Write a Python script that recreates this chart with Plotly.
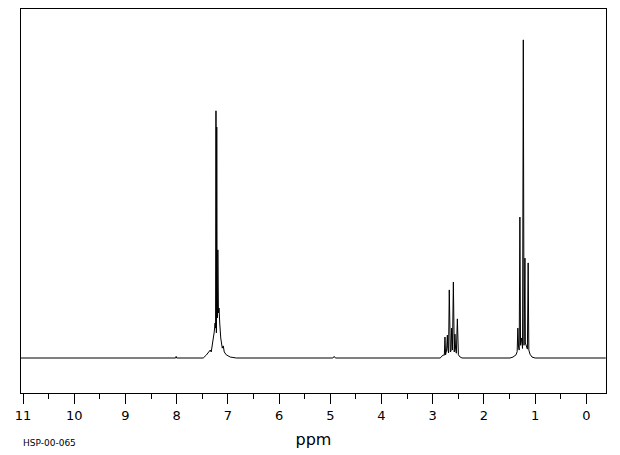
import plotly.graph_objects as go

# Spectrum vertices (ppm, relative intensity)
ppm = [
    -0.38, 1.000, 1.060, 1.099, 1.122, 1.135, 1.150, 1.177, 1.190, 1.198, 1.208,
    1.216, 1.230, 1.245, 1.265, 1.284, 1.297, 1.310, 1.323, 1.337, 1.350, 1.372,
    1.431, 1.489,
    2.426, 2.464, 2.498, 2.518, 2.538, 2.552, 2.565, 2.578, 2.596, 2.614,
    2.630, 2.642, 2.655, 2.676, 2.690, 2.705, 2.713, 2.728, 2.748, 2.760,
    2.772, 2.797, 2.836, 2.855,
    4.900, 4.924, 4.950,
    6.836, 6.953, 7.031, 7.070, 7.090, 7.109, 7.139, 7.159, 7.172, 7.184,
    7.196, 7.203, 7.209, 7.217, 7.224, 7.232, 7.240, 7.250, 7.266, 7.285,
    7.305, 7.325, 7.344, 7.383, 7.422, 7.481,
    8.000, 8.010, 8.020,
    11.04,
]
intensity = [
    0.0, 0.0, 0.3, 1.2, 2.5, 29.9, 2.8, 3.8, 4.7, 31.4, 4.7,
    4.0, 100.0, 3.0, 6.3, 4.0, 44.3, 2.5, 3.5, 9.4, 2.0, 1.0,
    0.3, 0.0,
    0.0, 0.3, 1.0, 12.3, 1.5, 2.8, 7.5, 1.9, 23.9, 2.5,
    9.4, 2.2, 1.9, 21.4, 1.6, 3.0, 7.2, 2.5, 1.0, 6.6,
    0.9, 0.9, 0.3, 0.0,
    0.0, 0.5, 0.0,
    0.0, 0.3, 1.0, 1.9, 3.8, 3.1, 6.3, 11.0, 15.7, 14.2,
    34.0, 12.6, 12.9, 72.6, 7.9, 77.7, 9.4, 11.0, 8.2, 5.7,
    4.4, 1.9, 2.5, 1.6, 0.9, 0.0,
    0.0, 0.5, 0.0,
    0.0,
]

tick_vals = [11, 10, 9, 8, 7, 6, 5, 4, 3, 2, 1, 0]
tick_text = [str(v) for v in tick_vals]
sample_id = "HSP-00-065"

fig = go.Figure()
fig.add_trace(go.Scatter(
    x=ppm, y=intensity, mode="lines",
    line=dict(color="black", width=1),
    hoverinfo="skip", showlegend=False,
))

fig.update_layout(
    width=620, height=455,
    margin=dict(l=21, r=14, t=9, b=62),
    paper_bgcolor="white", plot_bgcolor="white",
    font=dict(family="DejaVu Sans", color="black"),
    xaxis=dict(
        range=[11.04, -0.385],
        tickmode="array", tickvals=tick_vals, ticktext=tick_text,
        ticks="outside", ticklen=10, tickwidth=1, tickcolor="black",
        minor=dict(dtick=0.5, tick0=0, ticks="outside", ticklen=5,
                   tickwidth=1, tickcolor="black", showgrid=False),
        showline=True, linecolor="black", linewidth=1, mirror=True,
        showgrid=False, zeroline=False,
        tickfont=dict(size=13, color="black"),
        title=dict(text="ppm", font=dict(size=16, color="black"), standoff=12),
    ),
    yaxis=dict(
        range=[-11.0, 109.7],
        showticklabels=False, ticks="",
        showline=True, linecolor="black", linewidth=1, mirror=True,
        showgrid=False, zeroline=False,
    ),
    annotations=[dict(
        text=sample_id, xref="paper", yref="paper",
        x=0.0, y=-0.13, xanchor="left", yanchor="middle",
        showarrow=False, font=dict(size=9, color="black"),
    )],
)

fig.write_html("out.html")
